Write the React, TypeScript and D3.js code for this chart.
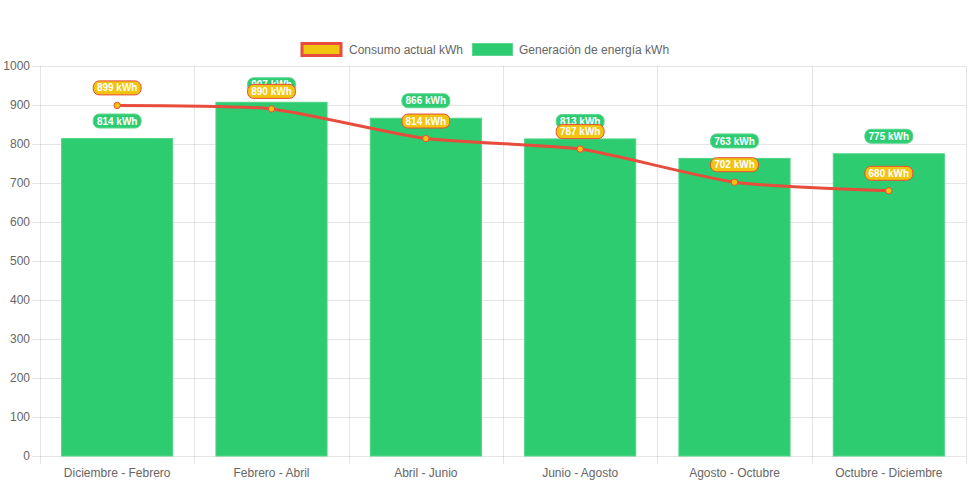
import React from "react";
import * as d3 from "d3";

const categories = [
  "Diciembre - Febrero",
  "Febrero - Abril",
  "Abril - Junio",
  "Junio - Agosto",
  "Agosto - Octubre",
  "Octubre - Diciembre",
];
const consumo = [899, 890, 814, 787, 702, 680];
const generacion = [814, 907, 866, 813, 763, 775];
const yTicks = [0, 100, 200, 300, 400, 500, 600, 700, 800, 900, 1000];
const seriesNames = ["Consumo actual kWh", "Generación de energía kWh"];

const W = 971;
const H = 485;
const L = 40, R = 966, T = 66, B = 456;
const FONT = "'Helvetica Neue', Helvetica, Arial, 'Liberation Sans', sans-serif";
const GRID = "rgba(0,0,0,0.1)";
const RED = "#e74c3c";
const YELLOW = "#f1c40f";
const GREEN = "#2ecc71";

function Label({ x, y, text, fill, stroke }: { x: number; y: number; text: string; fill: string; stroke: string }) {
  const w = text.length * 5.7 + 8;
  const h = 14;
  return (
    <g>
      <rect x={x - w / 2} y={y - h / 2} width={w} height={h} rx={6} ry={6} fill={fill} stroke={stroke} strokeWidth={1} />
      <text x={x} y={y + 3.6} textAnchor="middle" fontFamily={FONT} fontSize={10} fontWeight="bold" fill="#fff">
        {text}
      </text>
    </g>
  );
}

export default function App() {
  const x = d3.scaleBand<string>().domain(categories).range([L, R]).paddingInner(0).paddingOuter(0);
  const y = d3.scaleLinear().domain([0, 1000]).range([B, T]);
  const bw = x.bandwidth();
  const barW = bw * 0.72;
  const cx = (c: string) => (x(c) as number) + bw / 2;

  const line = d3
    .line<number>()
    .x((_, i) => cx(categories[i]))
    .y((d) => y(d))
    .curve(d3.curveCardinal.tension(0.4));

  const boundaries = categories.map((c) => x(c) as number).concat([R]);

  return (
    <svg width={W} height={H} style={{ position: "absolute", left: 0, top: 0, background: "#fff" }}>
      {/* legend */}
      <g>
        <rect x={302} y={43.5} width={39} height={12} fill={YELLOW} stroke={RED} strokeWidth={3} />
        <text x={349} y={54} fontFamily={FONT} fontSize={12} fill="#666">{seriesNames[0]}</text>
        <rect x={472.5} y={43.5} width={40} height={12} fill={GREEN} stroke="#5ed690" strokeWidth={1} />
        <text x={519} y={54} fontFamily={FONT} fontSize={12} fill="#666">{seriesNames[1]}</text>
      </g>

      {/* horizontal grid & y ticks */}
      {yTicks.map((t) => (
        <g key={t}>
          <line x1={32} x2={R} y1={y(t) + 0.5} y2={y(t) + 0.5} stroke={GRID} strokeWidth={1} />
          <text x={30} y={y(t) + 4} textAnchor="end" fontFamily={FONT} fontSize={12} fill="#666">
            {t}
          </text>
        </g>
      ))}
      {/* vertical grid */}
      {boundaries.map((b, i) => (
        <line key={i} x1={Math.round(b) + 0.5} x2={Math.round(b) + 0.5} y1={T} y2={B + 8} stroke={GRID} strokeWidth={1} />
      ))}
      {/* x labels */}
      {categories.map((c) => (
        <text key={c} x={cx(c)} y={477} textAnchor="middle" fontFamily={FONT} fontSize={12} fill="#666">
          {c}
        </text>
      ))}

      {/* bars */}
      {categories.map((c, i) => (
        <rect
          key={c}
          x={cx(c) - barW / 2}
          y={y(generacion[i])}
          width={barW}
          height={B - y(generacion[i])}
          fill={GREEN}
          stroke="#4fd486"
          strokeWidth={1}
        />
      ))}

      {/* line */}
      <path d={line(consumo) || ""} fill="none" stroke={RED} strokeWidth={3} />
      {consumo.map((v, i) => (
        <circle key={i} cx={cx(categories[i])} cy={y(v)} r={3.2} fill={YELLOW} stroke={RED} strokeWidth={1} />
      ))}

      {/* bar labels */}
      {generacion.map((v, i) => (
        <Label key={"g" + i} x={cx(categories[i])} y={y(v) - 17.5} text={`${v} kWh`} fill={GREEN} stroke="#5ed690" />
      ))}
      {/* line labels */}
      {consumo.map((v, i) => (
        <Label key={"c" + i} x={cx(categories[i])} y={y(v) - 17.5} text={`${v} kWh`} fill={YELLOW} stroke={RED} />
      ))}
    </svg>
  );
}
